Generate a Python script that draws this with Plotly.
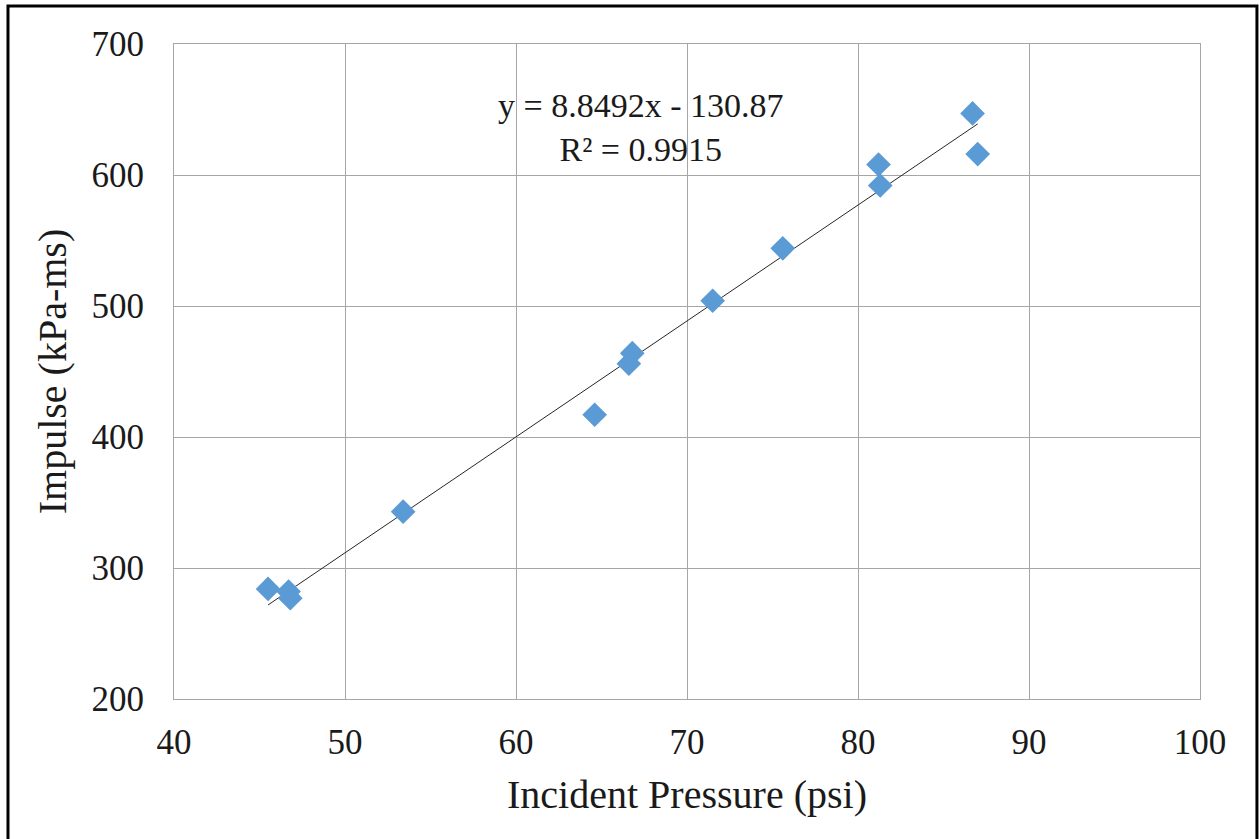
import plotly.graph_objects as go
import numpy as np

pressure = [45.5, 46.7, 46.8, 53.4, 64.6, 66.6, 66.8, 71.5, 75.6, 81.2, 81.3, 86.7, 87.0]
impulse = [284, 282, 277, 343, 417, 456, 464, 504, 544, 608, 592, 647, 616]
slope = 8.8492
intercept = -130.87
eq_text = "y = 8.8492x - 130.87<br>R² = 0.9915"

x_tr = [min(pressure), max(pressure)]
y_tr = [slope * v + intercept for v in x_tr]

fig = go.Figure()
fig.add_trace(go.Scatter(x=x_tr, y=y_tr, mode="lines",
                         line=dict(color="#262626", width=1), showlegend=False, hoverinfo="skip"))
fig.add_trace(go.Scatter(x=pressure, y=impulse, mode="markers",
                         marker=dict(symbol="diamond", size=19, color="#5b9bd5"),
                         showlegend=False))

font = "Liberation Serif, Times New Roman, serif"
fig.update_layout(
    width=1259, height=839,
    margin=dict(l=174, r=59, t=44, b=140),
    paper_bgcolor="white", plot_bgcolor="white",
    font=dict(family=font, color="#1a1a1a"),
    xaxis=dict(range=[40, 100], dtick=10, showgrid=True, gridcolor="#a6a6a6", gridwidth=1,
               showline=True, linecolor="#a6a6a6", mirror=True, zeroline=False,
               ticks="", ticklabelstandoff=12, tickfont=dict(size=35, family=font, color="#1a1a1a"),
               title=dict(text="Incident Pressure (psi)", font=dict(size=40, family=font, color="#1a1a1a"), standoff=18)),
    yaxis=dict(range=[200, 700], dtick=100, showgrid=True, gridcolor="#a6a6a6", gridwidth=1,
               showline=True, linecolor="#a6a6a6", mirror=True, zeroline=False,
               ticks="", ticklabelstandoff=22, tickfont=dict(size=35, family=font, color="#1a1a1a"),
               title=dict(text="Impulse (kPa-ms)", font=dict(size=40, family=font, color="#1a1a1a"), standoff=12)),
)
fig.add_annotation(x=0.455, y=0.937, xref="paper", yref="paper", text=eq_text, showarrow=False,
                   font=dict(size=34, family=font, color="#1a1a1a"), align="center")
fig.add_shape(type="rect", xref="paper", yref="paper", x0=-0.1618, x1=1.0555, y0=-0.25, y1=1.058,
              line=dict(color="black", width=3), layer="above")
fig.write_html("out.html")
